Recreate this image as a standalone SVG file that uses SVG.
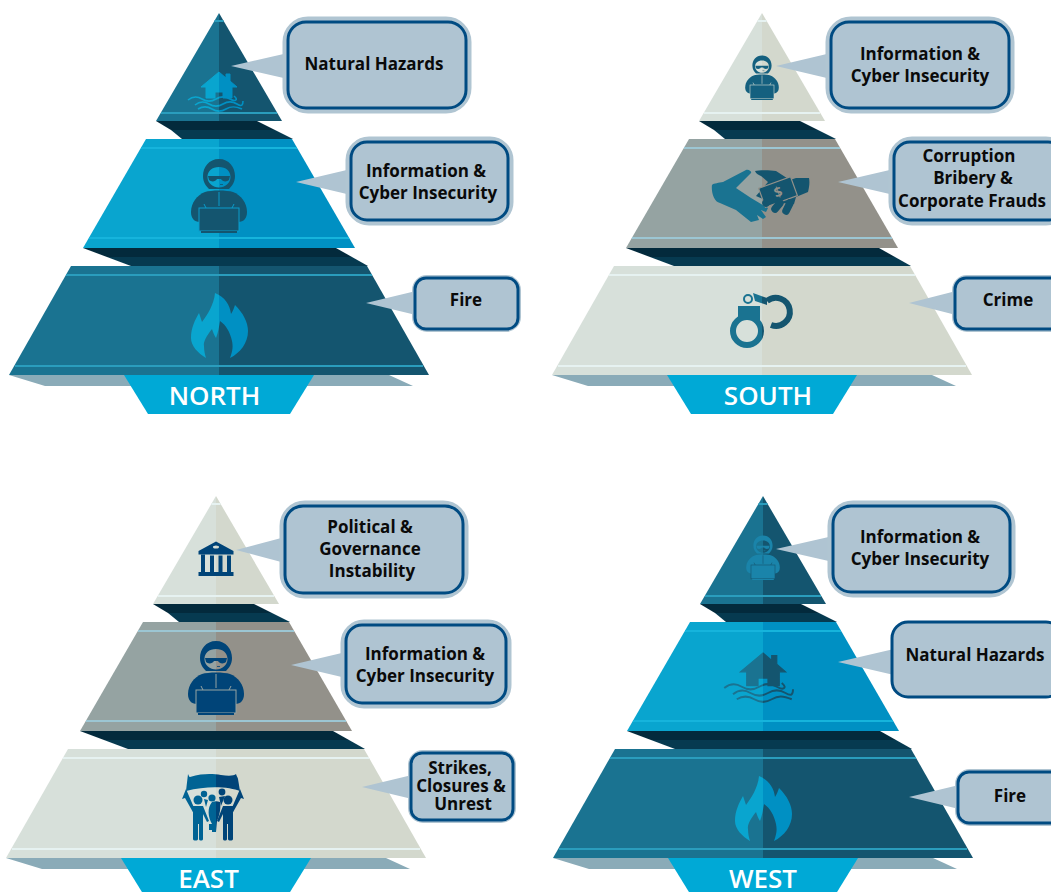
<svg xmlns="http://www.w3.org/2000/svg" width="1051" height="892" viewBox="0 0 1051 892">
<style>
text{font-family:"Open Sans","Noto Sans","Liberation Sans",sans-serif}
.t{font-size:17px;font-weight:700;fill:#0a0a0a;text-anchor:middle}
.lab{font-size:26px;font-weight:600;fill:#fff;text-anchor:middle}
.dark{--l:#1a7391;--r:#14556f;--s:#2a9dbd}
.blue{--l:#09a5cf;--r:#0090c3;--s:#16b4dc}
.pale{--l:#d7e0da;--r:#d3d8cd;--s:#e6f2f1}
.grey{--l:#95a3a2;--r:#93918a;--s:#9cc6d3}
.L{fill:var(--l)}.R{fill:var(--r)}.S{stroke:var(--s);stroke-width:2;fill:none}
.halo{fill:#afc4d2;stroke:#b0c5d2;stroke-width:11}
.thin{stroke-width:6}
.box{fill:#afc4d2;stroke:#004b82;stroke-width:3}
.ptr{fill:#afc4d2}
.wave{fill:none;stroke-width:1.6}
</style>
<defs>
<linearGradient id="gBlue" gradientUnits="userSpaceOnUse" x1="-1" x2="1" y1="0" y2="0"><stop offset=".5" stop-color="#09a5cf"/><stop offset=".5" stop-color="#0090c3"/></linearGradient>
<linearGradient id="gTeal" gradientUnits="userSpaceOnUse" x1="-1" x2="1" y1="0" y2="0"><stop offset=".5" stop-color="#1a7391"/><stop offset=".5" stop-color="#14556f"/></linearGradient>
<linearGradient id="gNavy" gradientUnits="userSpaceOnUse" x1="-1" x2="1" y1="0" y2="0"><stop offset=".5" stop-color="#006394"/><stop offset=".5" stop-color="#004478"/></linearGradient>
<g id="under">
<polygon points="-63,121 38,121 56,130 -48,130" fill="#032a3c"/>
<polygon points="-48,130 56,130 74,139 -37,139" fill="#063a50"/>
<polygon points="-136,248 117,248 133,257 -112,257" fill="#032a3c"/>
<polygon points="-112,257 133,257 149,266 -88,266" fill="#063a50"/>
<polygon points="-210,375 170,375 194,386 -174,386" fill="#8aabb8"/>
<polygon points="-95,375 95,375 71,414 -71,414" fill="#00a9d6"/>
</g>
<g id="tierTop"><polygon class="L" points="0,13 0,121 -63,121"/><polygon class="R" points="0,13 63,121 0,121"/><path class="S" d="M-4.500 21H4.500M-58 113H58"/></g>
<g id="tierMid"><polygon class="L" points="-73,139 0,139 0,248 -136,248"/><polygon class="R" points="0,139 73,139 136,248 0,248"/><path class="S" d="M-78 148H78M-130 238H130"/></g>
<g id="tierBot"><polygon class="L" points="-148,266 0,266 0,375 -210,375"/><polygon class="R" points="0,266 148,266 210,375 0,375"/><path class="S" d="M-153 275H153M-204 366H204"/></g>
<path id="fire" d="M-4 0C6 4 11 12 12 21C14 18 15 15 16 12C24 20 29 29 29 38C29 50 21 60 11 65C14 57 14 53 13 48C11 39 7 32 1 28C0 34 -1 40 -3 45C-5 42 -6 39 -7 36C-12 42 -16 49 -15 53C-15 58 -14 62 -13 65C-21 60 -28 53 -28 45C-28 35 -24 27 -20 20L-17 29C-12 22 -5 12 -4 0Z"/>
<g id="house">
<path d="M0 0L7 6V2H11V9L18 15H13V26H4V20H-4V26H-13V15H-18Z"/>
<g class="wave"><path d="M-31 28C-26 24 -22 24 -17 27S-8 30 -3 27S6 24 11 27S20 28 15 24"/><path d="M-24 33C-19 29 -15 29 -10 32S-1 35 4 32S13 29 18 32S24 33 24 29"/><path d="M-21 37C-16 34 -12 34 -7 37S2 40 7 37S16 34 23 37"/></g>
</g>
<g id="hacker">
<path stroke="none" fill-rule="evenodd" d="M0 1C10 1 16 9 16 18C16 24 13 28 10 31H-10C-13 28 -16 24 -16 18C-16 9 -10 1 0 1ZM0 9C-7 9 -11.500 13 -11.500 19C-11.500 25 -6 29.500 0 29.500S11.500 25 11.500 19C11.500 13 7 9 0 9Z"/>
<path stroke="none" d="M-11 18H11L10 22C8 24 3.500 24 2 21H-2C-3.500 24 -8 24 -10 22Z"/>
<path stroke="none" d="M1 26H4V26.800H1Z"/>
<path stroke="none" d="M-14 34C-8 32 8 32 14 34C22 37 28 45 28 54C28 60 25 64 19 64H-19C-25 64 -28 60 -28 54C-28 45 -22 37 -14 34Z"/>
<rect x="-20" y="50" width="40" height="23" stroke-width="1"/>
<rect x="-18" y="73" width="36" height="2" stroke="none"/>
<path d="M0 34V48M-15 46L-13 50M15 46L13 50" fill="none" stroke-width="1"/>
</g>
<g id="bank">
<path fill-rule="evenodd" d="M0 0L17.500 9.500V13H-17.500V9.500ZM-3 5.500A3 1.500 0 0 0 3 5.500A3 1.500 0 0 0 -3 5.500Z"/>
<path d="M-15 13H-11V31H-15ZM-6 14H-2V31H-6ZM2.500 14H6.500V31H2.500ZM11 14H15V31H11ZM-16 30.500H16V32.500H-16ZM-17.500 30.500H17.500V34.500H-17.500Z"/>
</g>
<g id="protest">
<path d="M-28 0C-27 2 -27 3 -26 3C-12 -1 -3 0 5 1C12 2 18 2 20 0C21 3 22 4 22 5L24 17C14 13 -8 11 -30 17Z"/>
<path d="M-30 15L-34 25L-31 24L-22 40L-21 36L-27 22ZM24 15L28 25L25 24L16 40L15 36L21 22Z"/>
<circle cx="-18" cy="26" r="4.500"/><circle cx="12" cy="26" r="4.500"/><circle cx="-4" cy="24" r="3.600"/><circle cx="-12" cy="20" r="3.200"/><circle cx="6" cy="18" r="3.400"/>
<path d="M-24 32H-13L-7 47L-9 48L-13 40V65C-13 67 -17 67 -17 65V50H-18V65C-18 67 -23 67 -23 65V38Z"/>
<path d="M18 32H7L1 47L3 48L7 40V65C7 67 11 67 11 65V50H12V65C12 67 17 67 17 65V38Z"/>
<path d="M-4 28C-1 27 1 27 4 28C5 33 4 40 1 47L0 58H-4L-4 50C-8 43 -9 34 -4 28Z"/>
<path d="M-8 26L-12 25L-10 33ZM3 23L9 22L5 32Z"/>
<rect x="-7" y="50" width="3" height="6"/>
</g>
<g id="handshake">
<path fill="#1a7391" d="M-50 15C-48 13 -43 13 -39 12L-16 0C-13 -1 -10 2 -11 3L-26 18L-11 28L6 38L4 42L-1 40L4 47L1 49L-5 45L-3 50L-11 52L-26 40L-42 33C-48 32 -51 22 -50 15Z"/>
<path fill="#14556f" d="M-7 1C-3 0 8 0 14 1L28 10L34 8L47 8C48 13 47 18 46 22L34 27L32 34L8 32L-6 26L6 12L-1 6C-3 5 -6 4 -7 1Z"/>
<g transform="translate(16 22) rotate(-20)"><rect x="-17" y="-10" width="34" height="20" fill="#14556f" stroke="#93918a" stroke-width="1.200"/><text x="0" y="5" text-anchor="middle" style="font-size:14px;font-weight:700;fill:#93918a">$</text></g>
<g fill="none" stroke="#14556f" stroke-width="7.500" stroke-linecap="round"><path d="M8 29L4 33"/><path d="M18 33L13 39"/><path d="M28 33L24 41"/></g>
</g>
<g id="cuffs">
<circle cx="-15" cy="331" r="14" fill="none" stroke-width="6"/>
<path d="M-24 306H-2V320H-24Z" stroke="none"/>
<circle cx="-14" cy="299" r="4" fill="none" stroke-width="2"/>
<path d="M-9 293L5 298V305L-7 301Z" stroke="none"/>
<path d="M5 301A14 14 0 1 1 9 325" fill="none" stroke-width="6"/>
</g>
</defs>

<g id="connectors"></g>

<g id="north" transform="translate(219 0)">
<use href="#under"/>
<use href="#tierTop" class="dark"/><use href="#tierMid" class="blue"/><use href="#tierBot" class="dark"/>
<text class="lab" x="-4.500" y="405">NORTH</text>
<use href="#house" transform="translate(0 72)" fill="url(#gBlue)" stroke="url(#gBlue)"/>
<use href="#hacker" transform="translate(0 158)" fill="#14556f" stroke="#0a9ccb"/>
<use href="#fire" transform="translate(0 293)" fill="url(#gBlue)"/>
</g>
<g id="north-1"><polygon class="ptr" points="231,66 288,53 288,79"/><rect class="halo" x="288" y="22" width="178" height="86" rx="20"/><rect class="box" x="288" y="22" width="178" height="86" rx="18"/><text class="t" x="374" y="70">Natural Hazards</text></g>
<g id="north-2"><polygon class="ptr" points="296,182 351,169 351,195"/><rect class="halo" x="351" y="142" width="157" height="78" rx="18"/><rect class="box" x="351" y="142" width="157" height="78" rx="16"/><text class="t" x="426" y="177">Information &amp;</text><text class="t" x="428" y="199">Cyber Insecurity</text></g>
<g id="north-3"><polygon class="ptr" points="366,303 416,291 416,315"/><rect class="halo thin" x="415" y="278" width="103" height="51" rx="12"/><rect class="box" x="415" y="278" width="103" height="51" rx="11"/><text class="t" x="466" y="306">Fire</text></g>

<g id="south" transform="translate(762 0)">
<use href="#under"/>
<use href="#tierTop" class="pale"/><use href="#tierMid" class="grey"/><use href="#tierBot" class="pale"/>
<text class="lab" x="6" y="405">SOUTH</text>
<use href="#hacker" transform="translate(0 55) scale(.6)" fill="#14607f" stroke="#d5dcd3"/>
<use href="#handshake" transform="translate(0 170)"/>
<use href="#cuffs" fill="url(#gTeal)" stroke="url(#gTeal)"/>
</g>
<g id="south-1"><polygon class="ptr" points="776,66 831,53 831,79"/><rect class="halo" x="831" y="22" width="178" height="86" rx="20"/><rect class="box" x="831" y="22" width="178" height="86" rx="18"/><text class="t" x="920" y="60">Information &amp;</text><text class="t" x="920" y="82">Cyber Insecurity</text></g>
<g id="south-2"><polygon class="ptr" points="838,182 894,169 894,195"/><rect class="halo" x="894" y="142" width="170" height="78" rx="18"/><rect class="box" x="894" y="142" width="170" height="78" rx="16"/><text class="t" x="969" y="162">Corruption</text><text class="t" x="973" y="184">Bribery &amp;</text><text class="t" x="972" y="207">Corporate Frauds</text></g>
<g id="south-3"><polygon class="ptr" points="909,303 956,291 956,315"/><rect class="halo thin" x="955" y="278" width="110" height="51" rx="12"/><rect class="box" x="955" y="278" width="110" height="51" rx="11"/><text class="t" x="1008" y="306">Crime</text></g>

<g id="east" transform="translate(216 483)">
<use href="#under"/>
<use href="#tierTop" class="pale"/><use href="#tierMid" class="grey"/><use href="#tierBot" class="pale"/>
<text class="lab" x="-7.500" y="405">EAST</text>
<use href="#bank" transform="translate(0 58.500)" fill="#004478"/>
<use href="#hacker" transform="translate(0 157)" fill="#004478" stroke="#95a3a2"/>
<use href="#protest" transform="translate(0 291)" fill="url(#gNavy)"/>
</g>
<g id="east-1"><polygon class="ptr" points="236,550 285,537 285,563"/><rect class="halo" x="285" y="506" width="178" height="87" rx="20"/><rect class="box" x="285" y="506" width="178" height="87" rx="18"/><text class="t" x="370" y="533">Political &amp;</text><text class="t" x="370" y="555">Governance</text><text class="t" x="372" y="577">Instability</text></g>
<g id="east-2"><polygon class="ptr" points="291,665 346,652 346,678"/><rect class="halo" x="346" y="625" width="160" height="78" rx="18"/><rect class="box" x="346" y="625" width="160" height="78" rx="16"/><text class="t" x="425" y="660">Information &amp;</text><text class="t" x="425" y="682">Cyber Insecurity</text></g>
<g id="east-3"><polygon class="ptr" points="362,787 412,775 412,799"/><rect class="halo thin" x="411" y="753" width="102" height="67" rx="12"/><rect class="box" x="411" y="753" width="102" height="67" rx="11"/><text class="t" x="460" y="774">Strikes,</text><text class="t" x="461" y="792">Closures &amp;</text><text class="t" x="463" y="810">Unrest</text></g>

<g id="west" transform="translate(763 483)">
<use href="#under"/>
<use href="#tierTop" class="dark"/><use href="#tierMid" class="blue"/><use href="#tierBot" class="dark"/>
<text class="lab" x="0" y="405">WEST</text>
<use href="#hacker" transform="translate(0 52) scale(.6)" fill="#1a84aa" stroke="#14556f"/>
<use href="#house" transform="translate(0 170) scale(1.250)" fill="url(#gTeal)" stroke="url(#gTeal)"/>
<use href="#fire" transform="translate(0 293)" fill="url(#gBlue)"/>
</g>
<g id="west-1"><polygon class="ptr" points="776,549 833,536 833,562"/><rect class="halo" x="833" y="506" width="177" height="86" rx="20"/><rect class="box" x="833" y="506" width="177" height="86" rx="18"/><text class="t" x="920" y="543">Information &amp;</text><text class="t" x="920" y="565">Cyber Insecurity</text></g>
<g id="west-2"><polygon class="ptr" points="838,662 894,649 894,675"/><rect class="box" x="892" y="622" width="170" height="75" rx="16"/><text class="t" x="975" y="661">Natural Hazards</text></g>
<g id="west-3"><polygon class="ptr" points="909,797 959,785 959,809"/><rect class="halo thin" x="958" y="772" width="110" height="51" rx="12"/><rect class="box" x="958" y="772" width="110" height="51" rx="11"/><text class="t" x="1010" y="802">Fire</text></g>
</svg>
